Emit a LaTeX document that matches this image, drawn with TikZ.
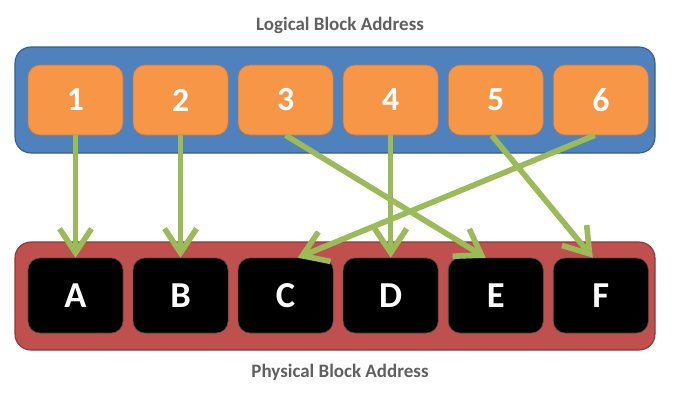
\documentclass[tikz,border=0pt]{standalone}
\usepackage{fontspec}
\setmainfont{Carlito}
\usetikzlibrary{positioning,arrows.meta}
\definecolor{lbablue}{HTML}{4F81BD}
\definecolor{lbablueline}{HTML}{385D8A}
\definecolor{lbaorange}{HTML}{F79646}
\definecolor{lbaorangeline}{HTML}{C77A3C}
\definecolor{pbared}{HTML}{C0504D}
\definecolor{pbaredline}{HTML}{8C3836}
\definecolor{mapgreen}{HTML}{9BBB59}
\definecolor{titlegray}{HTML}{606060}

\begin{document}
\begin{tikzpicture}[node distance=0.2375cm,every node/.style={align=center,inner sep=0pt},
    lbabox/.style={draw=lbaorangeline,rounded corners=0.3cm,fill=lbaorange,text=white,minimum width=2.375cm,minimum height=1.75cm,font=\fontsize{24}{24}\selectfont\bfseries},
    pbabox/.style={draw=black!70,rounded corners=0.3cm,fill=black,text=white,minimum width=2.375cm,minimum height=1.875cm,font=\fontsize{26}{26}\selectfont\bfseries},
    bar/.style={rounded corners=0.4cm,line width=0.8pt,minimum width=16cm,minimum height=2.65cm},
    caption/.style={text=titlegray,font=\fontsize{13.5}{13.5}\selectfont\bfseries},
    map/.style={-{Straight Barb[length=0.6cm,width=0.8cm]},line width=0.14cm,draw=mapgreen}]
    \useasboundingbox (0,0) rectangle (17,-10.075);
    % logical side
    \node[caption] (lbatitle) at (8.5,-0.625) {Logical Block Address};
    \node[bar,draw=lbablueline,fill=lbablue] (lbabar) at (8.375,-2.5) {};
    \node[lbabox] (l1) at (1.8875,-2.5) {1};
    \node[lbabox,right=of l1] (l2) {2};
    \node[lbabox,right=of l2] (l3) {3};
    \node[lbabox,right=of l3] (l4) {4};
    \node[lbabox,right=of l4] (l5) {5};
    \node[lbabox,right=of l5] (l6) {6};
    % physical side
    \node[bar,draw=pbaredline,fill=pbared,minimum height=2.7cm] (pbabar) at (8.375,-7.4) {};
    \node[pbabox] (p1) at (1.8875,-7.3875) {A};
    \node[pbabox,right=of p1] (p2) {B};
    \node[pbabox,right=of p2] (p3) {C};
    \node[pbabox,right=of p3] (p4) {D};
    \node[pbabox,right=of p4] (p5) {E};
    \node[pbabox,right=of p5] (p6) {F};
    \node[caption] (pbatitle) at (8.5,-9.3) {Physical Block Address};
    % mapping
    \draw[map] (l1.south) -- (p1.north);
    \draw[map] (l2.south) -- (p2.north);
    \draw[map] (l3.south) -- ([xshift=-0.25cm]p5.north);
    \draw[map] (l4.south) -- (p4.north);
    \draw[map] ([xshift=-0.1cm]l5.south) -- ([xshift=-0.2cm]p6.north);
    \draw[map] ([xshift=-0.15cm]l6.south) -- ([xshift=0.3cm]p3.north);
  \end{tikzpicture}
\end{document}
